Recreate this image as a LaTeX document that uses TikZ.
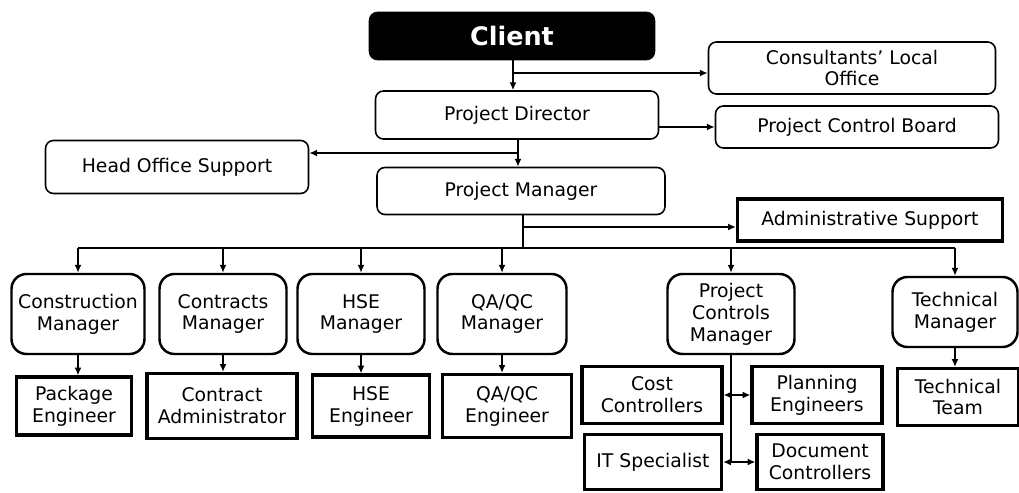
\documentclass[tikz,border=0pt]{standalone}
\usepackage{fontspec}
\setmainfont{DejaVu Sans}
\usetikzlibrary{arrows.meta, positioning, calc}

\tikzset{
  topbox/.style={draw, line width=0.9pt, rounded corners=4.5pt, align=center, inner sep=2pt},
  mgrbox/.style={draw, line width=1.4pt, rounded corners=8.5pt, align=center, inner sep=2pt, minimum height=1.6cm},
  staffbox/.style={draw, line width=1.8pt, align=center, inner sep=2pt},
  arr/.style={line width=0.9pt, -{Latex[length=4.5pt,width=4pt]}},
  twoarr/.style={line width=0.9pt, {Latex[length=4.5pt,width=4pt]}-{Latex[length=4.5pt,width=4pt]}},
}

\begin{document}
\begin{tikzpicture}[x=0.02cm, y=-0.02cm, font=\fontsize{10.7}{12.5}\selectfont]
    \useasboundingbox (0,0) rectangle (1019,493);
    % Klien di puncak
    \node[topbox, fill=black, text=white, font=\fontsize{14.5}{16}\selectfont\bfseries,
          minimum width=5.7cm, minimum height=0.94cm] (client) at (512,36) {Client};
    % Kotak level atas
    \node[topbox, minimum width=5.74cm, minimum height=1.04cm] (consult) at (852,68) {Consultants’ Local\\Office};
    \node[topbox, minimum width=5.66cm, minimum height=0.96cm] (pd) at (517,115) {Project Director};
    \node[topbox, minimum width=5.66cm, minimum height=0.84cm] (pcb) at (857,127) {Project Control Board};
    \node[topbox, minimum width=5.26cm, minimum height=1.06cm] (hos) at (177,167) {Head Office Support};
    \node[topbox, minimum width=5.76cm, minimum height=0.94cm] (pm) at (521,191) {Project Manager};
    \node[staffbox, minimum width=5.3cm, minimum height=0.84cm] (admin) at (870,220) {Administrative Support};
    % Manajer
    \node[mgrbox, minimum width=2.66cm] (cm) at (78,314) {Construction\\Manager};
    \node[mgrbox, minimum width=2.54cm] (ctm) at (223,314) {Contracts\\Manager};
    \node[mgrbox, minimum width=2.54cm] (hsem) at (361,314) {HSE\\Manager};
    \node[mgrbox, minimum width=2.58cm] (qam) at (502,314) {QA/QC\\Manager};
    \node[mgrbox, minimum width=2.54cm] (pcm) at (731,314) {Project\\Controls\\Manager};
    \node[mgrbox, minimum width=2.5cm, minimum height=1.4cm] (tm) at (955,312) {Technical\\Manager};
    % Staf
    \node[staffbox, minimum width=2.3cm, minimum height=1.16cm] (pe) at (74,406) {Package\\Engineer};
    \node[staffbox, minimum width=3.0cm, minimum height=1.3cm] (ca) at (222,406) {Contract\\Administrator};
    \node[staffbox, minimum width=2.34cm, minimum height=1.24cm] (hsee) at (371,406) {HSE\\Engineer};
    \node[staffbox, minimum width=2.58cm, minimum height=1.26cm] (qae) at (507,406) {QA/QC\\Engineer};
    \node[staffbox, minimum width=2.8cm, minimum height=1.14cm] (cc) at (652,395) {Cost\\Controllers};
    \node[staffbox, minimum width=2.6cm, minimum height=1.14cm] (plan) at (817,395) {Planning\\Engineers};
    \node[staffbox, minimum width=2.74cm, minimum height=1.1cm] (it) at (653,462) {IT Specialist};
    \node[staffbox, minimum width=2.52cm, minimum height=1.1cm] (doc) at (820,462) {Document\\Controllers};
    \node[staffbox, minimum width=2.42cm, minimum height=1.14cm] (tt) at (958,397) {Technical\\Team};
    % Titik cabang
    \coordinate (t1) at (513,73);
    \coordinate (t2) at (518,153);
    \coordinate (t3) at (523,227);
    \coordinate (bus) at (523,248);
    % Garis atas
    \draw[arr] (client.south -| t1) -- (pd.north -| t1);
    \draw[arr] (t1) -- (t1 -| consult.west);
    \draw[arr] (pd.east |- pcb.west) -- (pcb.west);
    \draw[arr] (pd.south -| t2) -- (pm.north -| t2);
    \draw[arr] (t2) -- (t2 -| hos.east);
    \draw[line width=0.9pt] (pm.south -| t3) -- (bus);
    \draw[arr] (t3) -- (t3 -| admin.west);
    % Bus ke manajer
    \draw[line width=0.9pt] (bus -| cm.north) -- (bus -| tm.north);
    \foreach \mg in {cm,ctm,hsem,qam,pcm,tm} {
        \draw[arr] (bus -| \mg.north) -- (\mg.north);
    }
    \foreach \mg/\st in {cm/pe, ctm/ca, hsem/hsee, qam/qae, tm/tt} {
        \draw[arr] (\mg.south) -- (\mg.south |- \st.north);
    }
    % Project controls
    \draw[line width=0.9pt] (pcm.south) -- (pcm.south |- it.east);
    \draw[twoarr] (cc.east) -- (plan.west);
    \draw[twoarr] (it.east) -- (doc.west);
\end{tikzpicture}
\end{document}
